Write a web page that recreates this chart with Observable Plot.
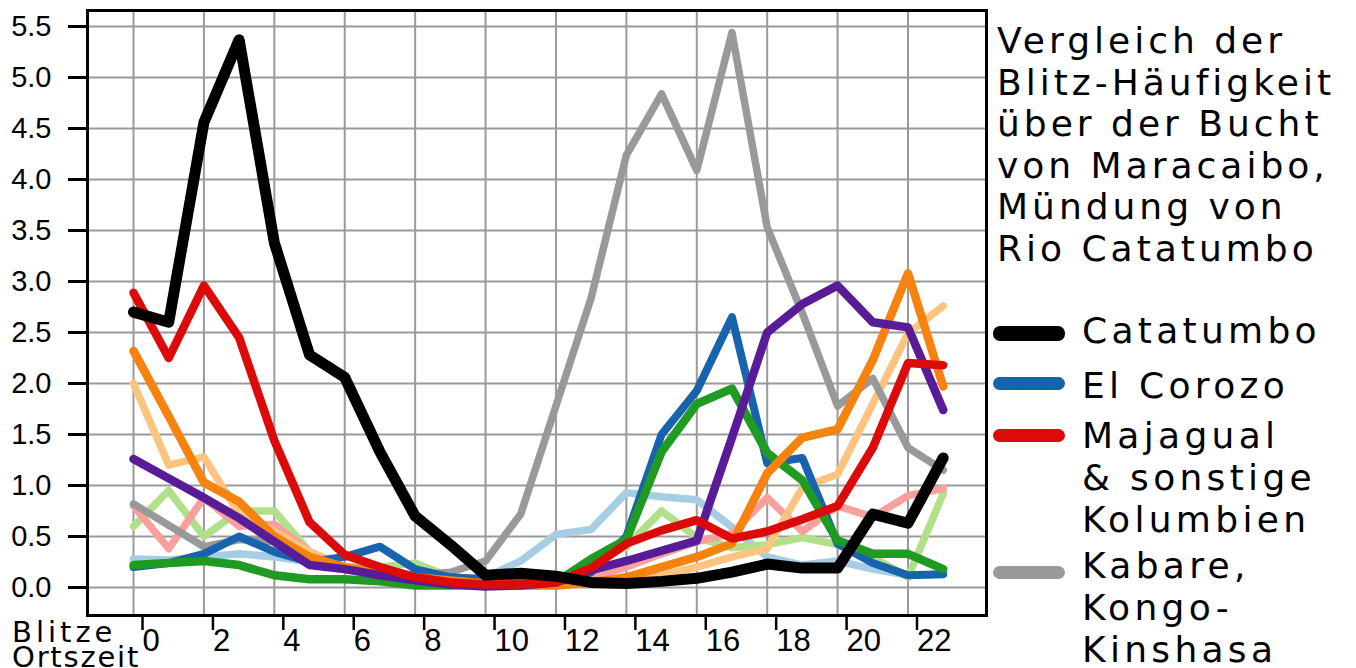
<!DOCTYPE html>
<html>
<head>
<meta charset="utf-8">
<script src="https://cdn.jsdelivr.net/npm/d3@7"></script>
<script src="https://cdn.jsdelivr.net/npm/@observablehq/plot@0.6"></script>
<style>
  html, body { margin: 0; padding: 0; background: #fff; }
  #wrap { position: relative; width: 1356px; height: 668px; overflow: hidden; background: #fff; }
  #chart { position: absolute; left: 0; top: 0; }
  .t { position: absolute; font-family: "DejaVu Sans", sans-serif; color: #000; white-space: nowrap; }
  .title { left: 997px; top: 20px; font-size: 36px; line-height: 41.5px; letter-spacing: 4px; }
  .leg { left: 1082px; font-size: 36px; line-height: 42px; letter-spacing: 4.3px; }
  .sw { position: absolute; left: 993px; width: 72px; border-radius: 7px; }
  .axl { left: 12px; font-size: 29px; line-height: 25px; }
</style>
</head>
<body>
<div id="wrap">
  <div id="chart"></div>
</div>
<script>
// Stunden (Ortszeit)
const hours = [0,1,2,3,4,5,6,7,8,9,10,11,12,13,14,15,16,17,18,19,20,21,22,23];
const xTicks = [0,2,4,6,8,10,12,14,16,18,20,22];
const yTicks = [0,0.5,1,1.5,2,2.5,3,3.5,4,4.5,5,5.5];

// Series values (Blitze)
const catatumbo   = [2.70,2.60,4.56,5.37,3.38,2.28,2.06,1.33,0.70,0.42,0.12,0.14,0.11,0.05,0.04,0.06,0.09,0.15,0.23,0.19,0.19,0.72,0.63,1.27];
const elCorozo    = [0.20,0.24,0.33,0.50,0.35,0.25,0.30,0.40,0.18,0.10,0.08,0.05,0.05,0.15,0.50,1.50,1.93,2.65,1.22,1.27,0.43,0.24,0.12,0.13];
const majagual    = [2.89,2.25,2.96,2.45,1.44,0.64,0.32,0.20,0.10,0.05,0.03,0.03,0.05,0.19,0.43,0.56,0.66,0.48,0.55,0.67,0.80,1.37,2.20,2.18];
const kabare      = [0.82,0.61,0.40,0.47,0.45,0.25,0.18,0.15,0.12,0.15,0.26,0.72,1.78,2.84,4.24,4.84,4.09,5.44,3.53,2.69,1.78,2.05,1.37,1.15];
const purple      = [1.26,1.07,0.88,0.68,0.45,0.22,0.18,0.12,0.07,0.03,0.01,0.02,0.05,0.17,0.26,0.36,0.46,1.47,2.50,2.78,2.96,2.60,2.55,1.74];
const orange      = [2.32,1.68,1.03,0.84,0.50,0.30,0.20,0.15,0.10,0.07,0.04,0.02,0.02,0.05,0.10,0.20,0.30,0.43,1.12,1.47,1.55,2.23,3.08,1.97];
const lightOrange = [2.00,1.20,1.28,0.72,0.55,0.35,0.20,0.15,0.10,0.06,0.04,0.02,0.02,0.05,0.08,0.12,0.20,0.30,0.38,0.98,1.11,1.80,2.49,2.76];
const green       = [0.22,0.24,0.26,0.22,0.12,0.08,0.08,0.06,0.02,0.02,0.03,0.03,0.05,0.28,0.47,1.33,1.80,1.95,1.32,1.05,0.46,0.33,0.33,0.18];
const lightGreen  = [0.60,0.95,0.50,0.75,0.75,0.35,0.20,0.20,0.24,0.10,0.05,0.03,0.05,0.25,0.40,0.75,0.49,0.39,0.42,0.49,0.42,0.30,0.10,0.92];
const lightBlue   = [0.28,0.27,0.30,0.33,0.30,0.25,0.20,0.15,0.12,0.08,0.10,0.26,0.52,0.57,0.93,0.89,0.86,0.59,0.30,0.22,0.26,0.18,0.12,0.13];
const pink        = [0.80,0.38,0.88,0.60,0.62,0.35,0.20,0.15,0.10,0.05,0.03,0.03,0.05,0.10,0.20,0.33,0.45,0.53,0.88,0.55,0.80,0.69,0.90,0.97];

// drawing order bottom -> top
const seriesList = [
  {values: lightBlue,   color: "#a6cde3", width: 7.5},
  {values: lightGreen,  color: "#b2df8a", width: 7.5},
  {values: pink,        color: "#f9a09e", width: 7.5},
  {values: lightOrange, color: "#fcc47e", width: 7.5},
  {values: kabare,      color: "#999999", width: 7.5},
  {values: elCorozo,    color: "#1763ad", width: 8},
  {values: green,       color: "#1f9a22", width: 8.5},
  {values: orange,      color: "#f6820f", width: 8.5},
  {values: purple,      color: "#581c98", width: 8.5},
  {values: majagual,    color: "#dd0a0a", width: 8.5},
  {values: catatumbo,   color: "#000000", width: 11}
];

const lineMarks = seriesList.map(s =>
  Plot.line(hours.map((h, i) => ({h, v: s.values[i]})), {
    x: "h", y: "v", stroke: s.color, strokeWidth: s.width,
    strokeLinejoin: "round", strokeLinecap: "round"
  })
);

const chart = Plot.plot({
  width: 1356,
  height: 668,
  marginLeft: 87,
  marginRight: 370,
  marginTop: 10,
  marginBottom: 53,
  style: {fontFamily: "'Liberation Sans', Arial, sans-serif", background: "transparent"},
  x: {domain: [-1.307, 24.23]},
  y: {domain: [-0.2745, 5.657]},
  marks: [
    Plot.gridX(xTicks, {stroke: "#9a9a9a", strokeOpacity: 1, strokeWidth: 2}),
    Plot.gridY(yTicks, {stroke: "#9a9a9a", strokeOpacity: 1, strokeWidth: 2}),
    ...lineMarks,
    Plot.frame({stroke: "#000", strokeWidth: 3}),
    Plot.axisY(yTicks, {
      tickSize: 19, tickPadding: 17, strokeWidth: 3, stroke: "#000",
      tickFormat: d3.format(".1f"), fontSize: 29, fill: "#000",
      label: null, letterSpacing: 2.5
    }),
    Plot.axisX(xTicks, {
      tickSize: 15, tickPadding: -2, strokeWidth: 2.5, stroke: "#000",
      textAnchor: "start", dx: 9, fontSize: 31, fill: "#000", label: null
    })
  ]
});
document.getElementById("chart").appendChild(chart);

// Title & legend (HTML beside the plot)
const titleLines = ["Vergleich der", "Blitz-Häufigkeit", "über der Bucht", "von Maracaibo,", "Mündung von", "Rio Catatumbo"];
const legendItems = [
  {lines: ["Catatumbo"], color: "#000000", top: 309.5, swY: 333, swH: 15},
  {lines: ["El Corozo"], color: "#1763ad", top: 364.5, swY: 383, swH: 13},
  {lines: ["Majagual", "& sonstige", "Kolumbien"], color: "#dd0a0a", top: 414.5, swY: 435, swH: 13},
  {lines: ["Kabare,", "Kongo-", "Kinshasa"], color: "#999999", top: 544.5, swY: 572, swH: 13}
];
const axisTexts = ["Blitze", "Ortszeit"];
const axisSpacing = [4, 1.8];

const wrap = document.getElementById("wrap");
const title = document.createElement("div");
title.className = "t title";
title.innerHTML = titleLines.join("<br>");
wrap.appendChild(title);

legendItems.forEach(it => {
  const sw = document.createElement("div");
  sw.className = "sw";
  sw.style.top = (it.swY - it.swH / 2) + "px";
  sw.style.height = it.swH + "px";
  sw.style.background = it.color;
  wrap.appendChild(sw);
  const tx = document.createElement("div");
  tx.className = "t leg";
  tx.style.top = it.top + "px";
  tx.innerHTML = it.lines.join("<br>");
  wrap.appendChild(tx);
});

axisTexts.forEach((s, i) => {
  const ax = document.createElement("div");
  ax.className = "t axl";
  ax.style.top = (620 + i * 25) + "px";
  ax.style.letterSpacing = axisSpacing[i] + "px";
  ax.textContent = s;
  wrap.appendChild(ax);
});
</script>
</body>
</html>
